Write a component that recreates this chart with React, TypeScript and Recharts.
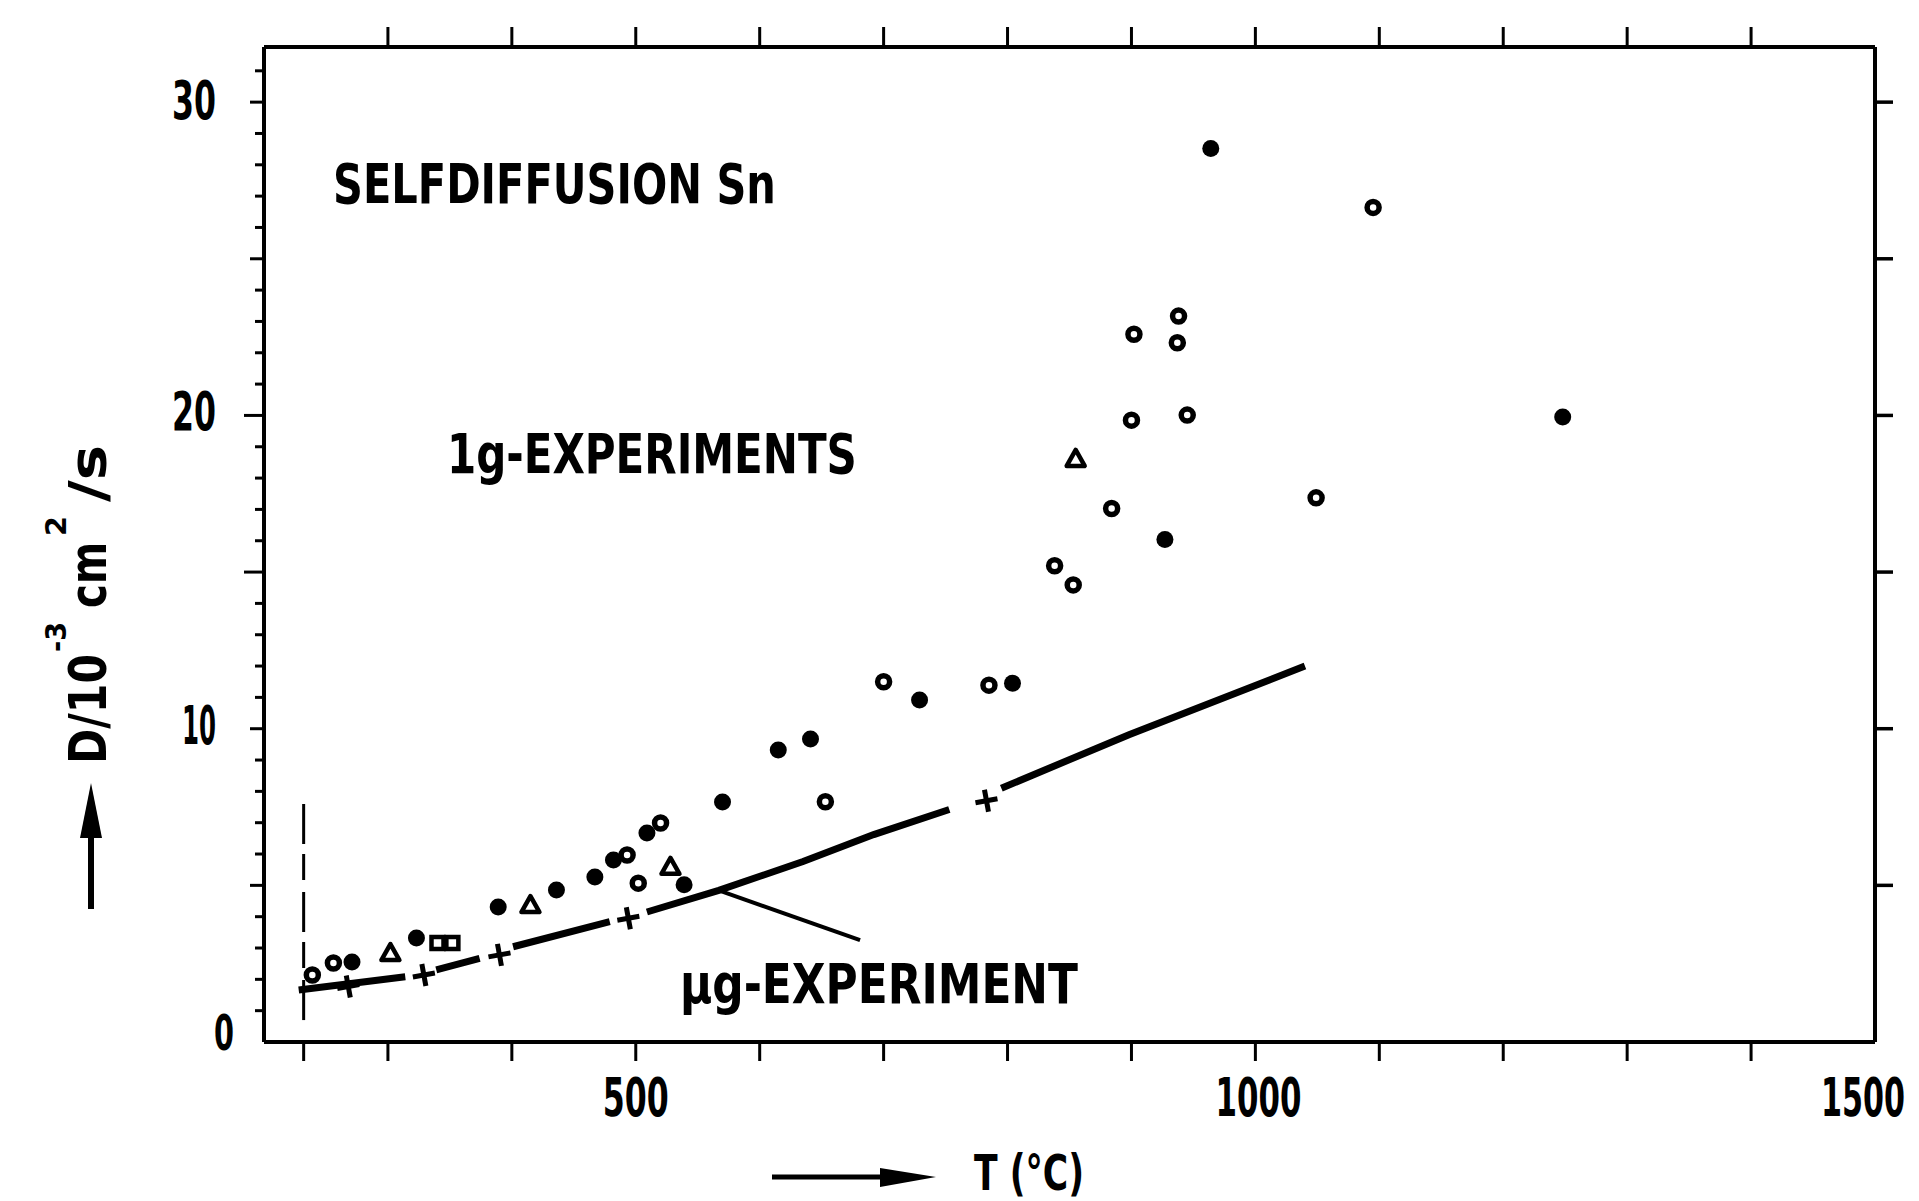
import React from 'react';
import { ComposedChart, XAxis, YAxis, Scatter, Line, Customized } from 'recharts';

const FONT = "'DejaVu Sans Condensed', 'DejaVu Sans', sans-serif";

// ---- data (T in °C, D in 10^-3 cm^2/s) ----
const openCircles = [
  { x: 239, y: 2.14 }, { x: 256, y: 2.52 }, { x: 493, y: 5.97 }, { x: 502, y: 5.07 },
  { x: 520, y: 6.99 }, { x: 653, y: 7.67 }, { x: 700, y: 11.5 }, { x: 785, y: 11.39 },
  { x: 838, y: 15.2 }, { x: 853, y: 14.59 }, { x: 884, y: 17.03 }, { x: 900, y: 19.85 },
  { x: 902, y: 22.59 }, { x: 937, y: 22.32 }, { x: 938, y: 23.17 }, { x: 945, y: 20.01 },
  { x: 1049, y: 17.37 }, { x: 1095, y: 26.64 },
];
const filledCircles = [
  { x: 271, y: 2.55 }, { x: 323, y: 3.32 }, { x: 389, y: 4.31 }, { x: 436, y: 4.85 },
  { x: 467, y: 5.27 }, { x: 482, y: 5.81 }, { x: 509, y: 6.67 }, { x: 539, y: 5.02 },
  { x: 570, y: 7.66 }, { x: 615, y: 9.32 }, { x: 641, y: 9.67 }, { x: 729, y: 10.92 },
  { x: 804, y: 11.45 }, { x: 927, y: 16.04 }, { x: 964, y: 28.52 }, { x: 1248, y: 19.95 },
];
const openTriangles = [
  { x: 302, y: 2.84 }, { x: 415, y: 4.37 }, { x: 528, y: 5.59 }, { x: 855, y: 18.61 },
];
const openSquares = [{ x: 340, y: 3.16 }, { x: 352, y: 3.16 }];
const ugCrosses = [
  { x: 268, y: 1.77 }, { x: 329, y: 2.14 }, { x: 390, y: 2.78 }, { x: 494, y: 3.95 }, { x: 783, y: 7.7 },
];
const ugLine = [
  { x: 228, y: 1.66 }, { x: 314, y: 2.08 }, { x: 326, y: null },
  { x: 339, y: 2.3 }, { x: 374, y: 2.67 }, { x: 385, y: null },
  { x: 401, y: 3.04 }, { x: 479, y: 3.84 }, { x: 490, y: null },
  { x: 509, y: 4.15 }, { x: 567, y: 4.84 }, { x: 635, y: 5.76 }, { x: 692, y: 6.62 }, { x: 753, y: 7.42 },
  { x: 770, y: null },
  { x: 795, y: 8.1 }, { x: 898, y: 9.81 }, { x: 1040, y: 12.0 },
];
const leaderLine = [{ x: 567, y: 4.84 }, { x: 681, y: 3.25 }];
const meltingLine = [{ x: 232, y: 0.7 }, { x: 232, y: 7.8 }];

// ---- ticks ----
const xTicksBottom = [232, 300, 400, 500, 600, 700, 800, 900, 1000, 1100, 1200, 1300, 1400, 1500];
const xTicksTop = [300, 400, 500, 600, 700, 800, 900, 1000, 1100, 1200, 1300, 1400];
const xLabels = [
  { v: 500, t: '500', w: 66, dx: 0 },
  { v: 1000, t: '1000', w: 86, dx: 3 },
  { v: 1500, t: '1500', w: 84, dx: -12 },
];
const yTicksLeft = Array.from({ length: 32 }, (_, i) => i);
const yLabels = [
  { v: 0, t: '0', w: 20, gap: 30, dy: 8, size: 50 },
  { v: 10, t: '10', w: 34, gap: 48, dy: 15, size: 54 },
  { v: 20, t: '20', w: 44, gap: 48, dy: 15, size: 54 },
  { v: 30, t: '30', w: 44, gap: 48, dy: 17, size: 54 },
];
const yTicksRight = [5, 10, 15, 20, 25, 30];

let measureCtx: CanvasRenderingContext2D | null = null;
function measure(text: string, size: number): number {
  if (!measureCtx && typeof document !== 'undefined') {
    measureCtx = document.createElement('canvas').getContext('2d');
  }
  if (!measureCtx) return text.length * size * 0.6;
  measureCtx.font = `bold ${size}px ${FONT}`;
  return measureCtx.measureText(text).width || text.length * size * 0.6;
}

// text squeezed horizontally to a given width (real geometry via transform)
const Txt = ({ x, y, w, size, anchor = 'start', children }: any) => {
  const s = w / measure(String(children), size);
  return (
    <text transform={`translate(${x},${y}) scale(${s},1)`} x={0} y={0} fontSize={size} fontFamily={FONT}
      fontWeight="bold" fill="#000" textAnchor={anchor}>{children}</text>
  );
};

const BottomTick = (p: any) => {
  const { x, y, payload } = p;
  const v = payload.value;
  const lab = xLabels.find((l) => l.v === v);
  const len = v === 1500 ? 0 : 19;
  return (
    <g>
      {len > 0 && <line x1={x} x2={x} y1={y} y2={y + len} stroke="#000" strokeWidth={3} />}
      {lab && <Txt x={x + lab.dx} y={y + 74} w={lab.w} size={54} anchor="middle">{lab.t}</Txt>}
    </g>
  );
};
const TopTick = (p: any) => {
  const { x, y } = p;
  return <line x1={x} x2={x} y1={y} y2={y - 20} stroke="#000" strokeWidth={3} />;
};
const LeftTick = (p: any) => {
  const { x, y, payload } = p;
  const v = payload.value;
  const lab = yLabels.find((l) => l.v === v);
  const len = v === 20 || v === 15 ? 20 : v % 5 === 0 ? 14 : 9;
  return (
    <g>
      {v > 0 && <line x1={x - len} x2={x} y1={y} y2={y} stroke="#000" strokeWidth={3} />}
      {lab && <Txt x={x - lab.gap} y={y + lab.dy} w={lab.w} size={lab.size} anchor="end">{lab.t}</Txt>}
    </g>
  );
};
const RightTick = (p: any) => {
  const { x, y } = p;
  return <line x1={x} x2={x + 18} y1={y} y2={y} stroke="#000" strokeWidth={3.5} />;
};

const OpenCircle = (p: any) => <circle cx={p.cx} cy={p.cy} r={6} fill="#fff" stroke="#000" strokeWidth={5.5} />;
const FilledCircle = (p: any) => <circle cx={p.cx} cy={p.cy} r={8.5} fill="#000" />;
const OpenTriangle = (p: any) => (
  <polygon points={`${p.cx},${p.cy - 9} ${p.cx + 9},${p.cy + 7} ${p.cx - 9},${p.cy + 7}`}
    fill="#fff" stroke="#000" strokeWidth={4.5} strokeLinejoin="round" />
);
const OpenSquare = (p: any) => (
  <rect x={p.cx - 6} y={p.cy - 6} width={12} height={12} fill="#fff" stroke="#000" strokeWidth={4.5} />
);
const Cross = (p: any) => (
  <g stroke="#000" strokeWidth={5}>
    <line x1={p.cx - 11} x2={p.cx + 11} y1={p.cy + 2} y2={p.cy - 2} />
    <line x1={p.cx - 2} x2={p.cx + 2} y1={p.cy - 11} y2={p.cy + 11} />
  </g>
);

const Annotations = () => (
  <g>
    <Txt x={333} y={203} w={443} size={55}>SELFDIFFUSION Sn</Txt>
    <Txt x={447} y={473} w={410} size={56}>1g-EXPERIMENTS</Txt>
    <Txt x={680} y={1003} w={398} size={56}>µg-EXPERIMENT</Txt>
    <line x1={772} y1={1177} x2={884} y2={1177} stroke="#000" strokeWidth={5} />
    <polygon points="880,1168 936,1177 880,1187" fill="#000" />
    <Txt x={974} y={1190} w={110} size={50}>T (°C)</Txt>
    <line x1={91} y1={909} x2={91} y2={832} stroke="#000" strokeWidth={6} />
    <polygon points="80,838 91,783 102,838" fill="#000" />
    <g transform="translate(106,764) rotate(-90)">
      <Txt x={0} y={0} w={110} size={52}>D/10</Txt>
      <Txt x={112} y={-40} w={30} size={28}>-3</Txt>
      <Txt x={156} y={0} w={66} size={52}>cm</Txt>
      <Txt x={228} y={-40} w={20} size={28}>2</Txt>
      <Txt x={262} y={0} w={57} size={52}>/s</Txt>
    </g>
  </g>
);

export default function App() {
  const axisLine = { stroke: '#000', strokeWidth: 4 };
  return (
    <div style={{ position: 'absolute', left: 0, top: 0, background: '#fff' }}>
      <ComposedChart width={1919} height={1201} margin={{ top: 17, right: 4, bottom: 59, left: 164 }}>
        <XAxis type="number" dataKey="x" domain={[200, 1500]} allowDataOverflow ticks={xTicksBottom}
          interval={0} tickSize={0} tickMargin={0} tickLine={false} tick={<BottomTick />}
          axisLine={axisLine} height={100} />
        <XAxis xAxisId="top" orientation="top" type="number" dataKey="x" domain={[200, 1500]} allowDataOverflow
          ticks={xTicksTop} interval={0} tickSize={0} tickMargin={0} tickLine={false} tick={<TopTick />}
          axisLine={axisLine} height={30} />
        <YAxis type="number" dataKey="y" domain={[0, 31.76]} allowDataOverflow ticks={yTicksLeft}
          interval={0} tickSize={0} tickMargin={0} tickLine={false} tick={<LeftTick />}
          axisLine={axisLine} width={100} />
        <YAxis yAxisId="right" orientation="right" type="number" dataKey="y" domain={[0, 31.76]} allowDataOverflow
          ticks={yTicksRight} interval={0} tickSize={0} tickMargin={0} tickLine={false} tick={<RightTick />}
          axisLine={axisLine} width={40} />
        <Line data={meltingLine} dataKey="y" type="linear" stroke="#000" strokeWidth={3}
          strokeDasharray="40 12 26 10" dot={false} isAnimationActive={false} />
        <Line data={ugLine} dataKey="y" type="linear" stroke="#000" strokeWidth={7} connectNulls={false}
          dot={false} isAnimationActive={false} />
        <Line data={leaderLine} dataKey="y" type="linear" stroke="#000" strokeWidth={4}
          dot={false} isAnimationActive={false} />
        <Scatter data={ugCrosses} shape={Cross} isAnimationActive={false} />
        <Scatter data={openCircles} shape={OpenCircle} isAnimationActive={false} />
        <Scatter data={filledCircles} shape={FilledCircle} isAnimationActive={false} />
        <Scatter data={openTriangles} shape={OpenTriangle} isAnimationActive={false} />
        <Scatter data={openSquares} shape={OpenSquare} isAnimationActive={false} />
        <Customized component={<Annotations />} />
      </ComposedChart>
    </div>
  );
}
